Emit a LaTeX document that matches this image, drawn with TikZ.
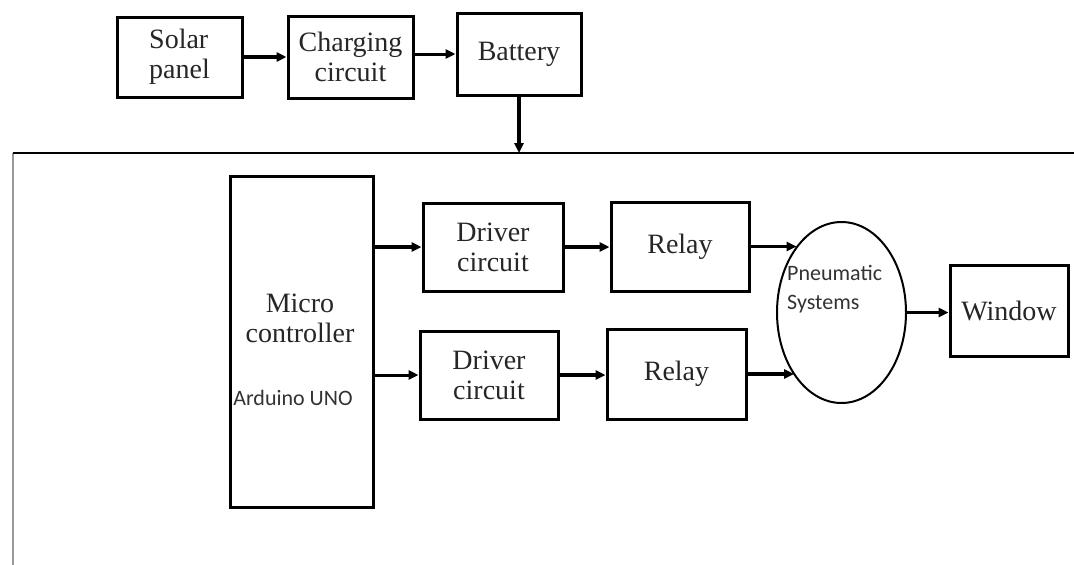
\documentclass[tikz,border=0pt]{standalone}
\usepackage{fontspec}
\setmainfont{Liberation Serif}
\newfontfamily\carl{Carlito}
\usetikzlibrary{shapes.geometric,arrows.meta}
\begin{document}
\begin{tikzpicture}[x=1pt,y=-1pt,
  box/.style={draw, line width=3pt, inner sep=0pt, align=center,
    font=\fontsize{28}{30}\selectfont, text=black!85},
  oval/.style={draw, ellipse, line width=2pt, inner sep=0pt},
  sanstext/.style={font=\carl\fontsize{22}{29}\selectfont, text=black!80, inner sep=0pt},
  serif/.style={font=\fontsize{28}{30}\selectfont, text=black!85, align=center, inner sep=0pt},
  arr/.style={line width=3.5pt, -{Triangle[length=10pt,width=9pt]}}]
\useasboundingbox (0,0) rectangle (1074,565);
\fill[white] (0,0) rectangle (1074,565);
% frame
\coordinate (fbl) at (13,565);
\coordinate (ftl) at (13,153);
\coordinate (ftr) at (1074,153);
\draw[gray!80, line width=2.5pt] (fbl) -- (ftl);
\draw[line width=2.5pt] (ftl) -- (ftr);
% top row
\node[box, align=left, minimum width=125, minimum height=80] (sp) at (179.5,57) {Solar\\panel};
\node[box, minimum width=125, minimum height=82] (cc) at (350.5,57) {Charging\\circuit};
\node[box, minimum width=124, minimum height=82] (bat) at (519,54) {Battery};
% controller
\node[box, minimum width=143, minimum height=331] (mc) at (301.5,341.5) {};
\node[serif] (mct) at (300,318) {Micro\\controller};
\node[sanstext] (ard) at (293,398) {Arduino UNO};
% drivers & relays
\node[box, minimum width=140, minimum height=88] (d1) at (493,247) {Driver\\circuit};
\node[box, minimum width=138, minimum height=89] (r1) at (680,246.5) {Relay};
\node[box, minimum width=138, minimum height=88] (d2) at (489,375) {Driver\\circuit};
\node[box, minimum width=139, minimum height=90] (r2) at (676.5,374) {Relay};
% pneumatic
\node[oval, minimum width=129, minimum height=181] (pn) at (841.5,312.5) {};
\node[sanstext, align=left, anchor=north west] (pnt) at (787,265) {Pneumatic\\Systems};
\node[box, minimum width=118, minimum height=91] (win) at (1009,310.5) {Window};
% connectors
\draw[arr] (sp.east) -- (cc.west);
\draw[arr, line width=3pt] (cc.east |- bat.west) -- (bat.west);
\draw[arr] (bat.south) -- (bat.south |- ftl);
\draw[arr] (mc.east |- d1.west) -- (d1.west);
\draw[arr, line width=3pt] (mc.east |- d2.west) -- (d2.west);
\draw[arr] (d1.east) -- (r1.west |- d1.east);
\draw[arr] (d2.east) -- (r2.west |- d2.east);
\draw[arr, line width=3pt] (r1.east) -- (r1.east -| pn.124);
\draw[arr] (r2.east) -- (r2.east -| pn.233);
\draw[arr, line width=2.5pt] (pn.east) -- (pn.east -| win.west);
\end{tikzpicture}
\end{document}
